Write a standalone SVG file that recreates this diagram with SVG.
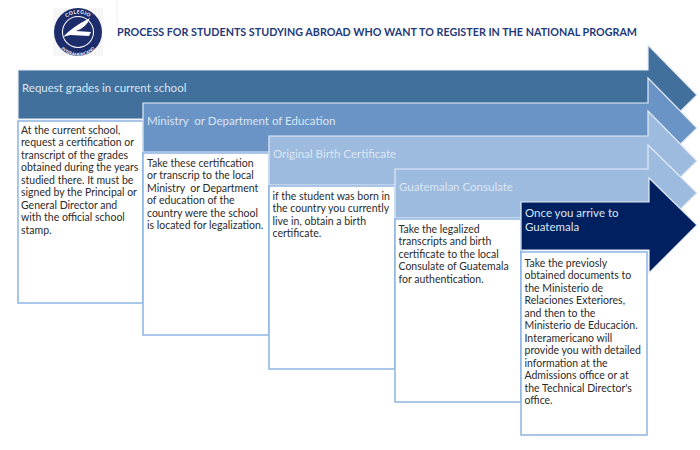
<svg xmlns="http://www.w3.org/2000/svg" width="700" height="450" viewBox="0 0 700 450">
<style>
text{font-family:"Lato","Open Sans",sans-serif}
.h{font-size:11.5px;fill:#dce6f2}
.b{font-size:10.5px;fill:#2b2b2b}
.box{fill:#fff;stroke:#8db4e2;stroke-width:1.5}
.arw{stroke:#e4ebf5;stroke-width:1.2}
.t{font-size:11.800px;font-weight:700;fill:#1f3a7a}
.lg{font-size:5px;font-weight:700;fill:#fff;letter-spacing:.4px}
</style>
<defs>
<path id="lgTop" d="M59.500 32A18.500 18.500 0 0 1 96.500 32"/>
<path id="lgBot" d="M55 33A23 23 0 0 0 101 33"/>
</defs>
<rect width="700" height="450" fill="#fff"/>
<g id="logo">
<rect x="53" y="8" width="50" height="48" fill="#f6f6f6"/>
<line x1="117" y1="0" x2="117" y2="26" stroke="#eeeeee"/>
<circle cx="78" cy="32" r="24" fill="#1d2d6b"/>
<circle cx="78" cy="32" r="16" fill="#fff"/>
<circle cx="78" cy="32" r="15" fill="#1d2d6b"/>
<path d="M63 37Q72 27 90 18Q86 28 76 31L91 32L89 36L70 35Z" fill="#fff"/>
<text class="lg" text-anchor="middle"><textPath href="#lgTop" startOffset="50%">COLEGIO</textPath></text>
<text class="lg" text-anchor="middle" style="font-size:4.200px;letter-spacing:0"><textPath href="#lgBot" startOffset="50%">INTERAMERICANO</textPath></text>
</g>
<text class="t" x="117" y="36" textLength="520" lengthAdjust="spacingAndGlyphs">PROCESS FOR STUDENTS STUDYING ABROAD WHO WANT TO REGISTER IN THE NATIONAL PROGRAM</text>
<g id="step1">
<path class="arw" fill="#41709c" d="M18 70H648V45L697 95L648 143V119H18Z"/>
<rect class="box" x="18" y="121" width="125" height="182"/>
<text class="h" x="22" y="92">Request grades in current school</text>
<text class="b"><tspan x="21" y="134">At the current school,</tspan><tspan x="21" dy="12.450">request a certification or</tspan><tspan x="21" dy="12.450">transcript of the grades</tspan><tspan x="21" dy="12.450">obtained during the years</tspan><tspan x="21" dy="12.450">studied there. It must be</tspan><tspan x="21" dy="12.450">signed by the Principal or</tspan><tspan x="21" dy="12.450">General Director and</tspan><tspan x="21" dy="12.450">with the official school</tspan><tspan x="21" dy="12.450">stamp.</tspan></text>
</g>
<g id="step2">
<path class="arw" fill="#6a94c6" d="M143 103H648V78L697 128L648 176V152H143Z"/>
<rect class="box" x="143" y="153" width="126" height="182"/>
<text class="h" x="147" y="125">Ministry&#160; or Department of Education</text>
<text class="b"><tspan x="147" y="167">Take these certification</tspan><tspan x="147" dy="12.450">or transcrip to the local</tspan><tspan x="147" dy="12.450">Ministry&#160; or Department</tspan><tspan x="147" dy="12.450">of education of the</tspan><tspan x="147" dy="12.450">country were the school</tspan><tspan x="147" dy="12.450">is located for legalization.</tspan></text>
</g>
<g id="step3">
<path class="arw" fill="#9dbbdf" d="M269 136H648V111L697 161L648 209V185H269Z"/>
<rect class="box" x="269" y="186" width="126" height="183"/>
<text class="h" x="273" y="158">Original Birth Certificate</text>
<text class="b"><tspan x="272.500" y="200">if the student was born in</tspan><tspan x="272.500" dy="12.450">the country you currently</tspan><tspan x="272.500" dy="12.450">live in, obtain a birth</tspan><tspan x="272.500" dy="12.450">certificate.</tspan></text>
</g>
<g id="step4">
<path class="arw" fill="#9dbbdf" d="M395 169H648V145L697 193L648 241V218H395Z"/>
<rect class="box" x="395" y="219" width="126" height="183"/>
<text class="h" x="399" y="191">Guatemalan Consulate</text>
<text class="b"><tspan x="398.500" y="233">Take the legalized</tspan><tspan x="398.500" dy="12.450">transcripts and birth</tspan><tspan x="398.500" dy="12.450">certificate to the local</tspan><tspan x="398.500" dy="12.450">Consulate of Guatemala</tspan><tspan x="398.500" dy="12.450">for authentication.</tspan></text>
</g>
<g id="step5">
<path class="arw" fill="#00205f" d="M521 202H649V178L697 225L649 273V250H521Z"/>
<rect class="box" x="521" y="252" width="126" height="183"/>
<text class="h" x="525" y="217">Once you arrive to</text>
<text class="h" x="525" y="231">Guatemala</text>
<text class="b"><tspan x="524.500" y="267">Take the previosly</tspan><tspan x="524.500" dy="12.450">obtained documents to</tspan><tspan x="524.500" dy="12.450">the Ministerio de</tspan><tspan x="524.500" dy="12.450">Relaciones Exteriores,</tspan><tspan x="524.500" dy="12.450">and then to the</tspan><tspan x="524.500" dy="12.450">Ministerio de Educación.</tspan><tspan x="524.500" dy="12.450">Interamericano will</tspan><tspan x="524.500" dy="12.450">provide you with detailed</tspan><tspan x="524.500" dy="12.450">information at the</tspan><tspan x="524.500" dy="12.450">Admissions office or at</tspan><tspan x="524.500" dy="12.450">the Technical Director's</tspan><tspan x="524.500" dy="12.450">office.</tspan></text>
</g>
</svg>
